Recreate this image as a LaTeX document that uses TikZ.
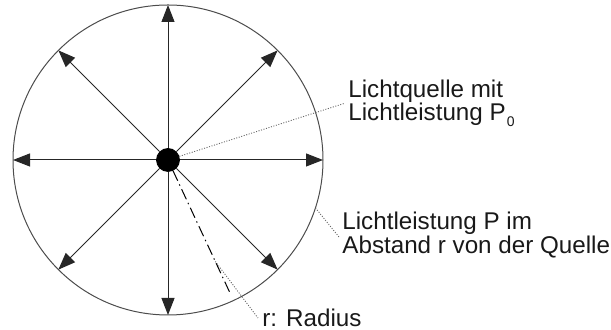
\documentclass[tikz,border=0pt]{standalone}
\usepackage{fontspec}
\setmainfont{Liberation Sans}
\usetikzlibrary{arrows.meta, positioning, calc}

\begin{document}
\begin{tikzpicture}[
        x=0.5pt, y=0.5pt,
        font=\fontsize{12.1pt}{11.6pt}\selectfont,
        source/.style={circle, fill=black, draw=black, inner sep=0pt, minimum size=11.5pt},
        rim/.style={draw=black!70, line width=0.5pt},
        ray/.style={-{Triangle[length=8.5pt, width=6.5pt]}, draw=black!85, line width=0.5pt},
        radiusline/.style={draw=black, line width=0.5pt, dash pattern=on 5.5pt off 2pt on 0.7pt off 2pt},
        leader/.style={draw=black!60, line width=0.45pt, dash pattern=on 0.5pt off 0.8pt},
        note/.style={anchor=west, inner sep=0pt, align=left, text=black!90}
    ]
        \useasboundingbox (0,0) rectangle (611,330);

        \node[source] (source) at (168,170) {};
        \draw[rim] (source.center) circle[radius=155];

        \coordinate (rimE) at ($(source.center)+(0:155)$);
        \coordinate (rimNE) at ($(source.center)+(45:155)$);
        \coordinate (rimN) at ($(source.center)+(90:155)$);
        \coordinate (rimNW) at ($(source.center)+(135:155)$);
        \coordinate (rimW) at ($(source.center)+(180:155)$);
        \coordinate (rimSW) at ($(source.center)+(225:155)$);
        \coordinate (rimS) at ($(source.center)+(270:155)$);
        \coordinate (rimSE) at ($(source.center)+(315:155)$);
        \coordinate (rimR) at ($(source.center)+(-65:149)$);
        \coordinate (rimP) at ($(source.center)+(-18:155)$);
        \coordinate (rmid) at ($(source.center)+(-65:112)$);

        \draw[ray] (source) -- (rimE);
        \draw[ray] (source) -- (rimNE);
        \draw[ray] (source) -- (rimN);
        \draw[ray] (source) -- (rimNW);
        \draw[ray] (source) -- (rimW);
        \draw[ray] (source) -- (rimSW);
        \draw[ray] (source) -- (rimS);
        \draw[ray] (source) -- (rimSE);
        \draw[radiusline] (source) -- (rimR);

        \node[note] (quelle) at (348,226.5) {Lichtquelle mit\\Lichtleistung P\kern0.5pt\raisebox{-3pt}{\fontsize{7pt}{7pt}\selectfont 0}};
        \node[note] (abstand) at (342,95) {Lichtleistung P im\\Abstand r von der Quelle};
        \node[note] (radius) at (262,12) {r: Radius};

        \draw[leader] (source) -- ([xshift=-2pt]quelle.west);
        \draw[leader] (rimP) -- ([xshift=-1.5pt, yshift=-1pt]abstand.west);
        \draw[leader] (rmid) -- ([xshift=-2pt]radius.west);
    \end{tikzpicture}
\end{document}
